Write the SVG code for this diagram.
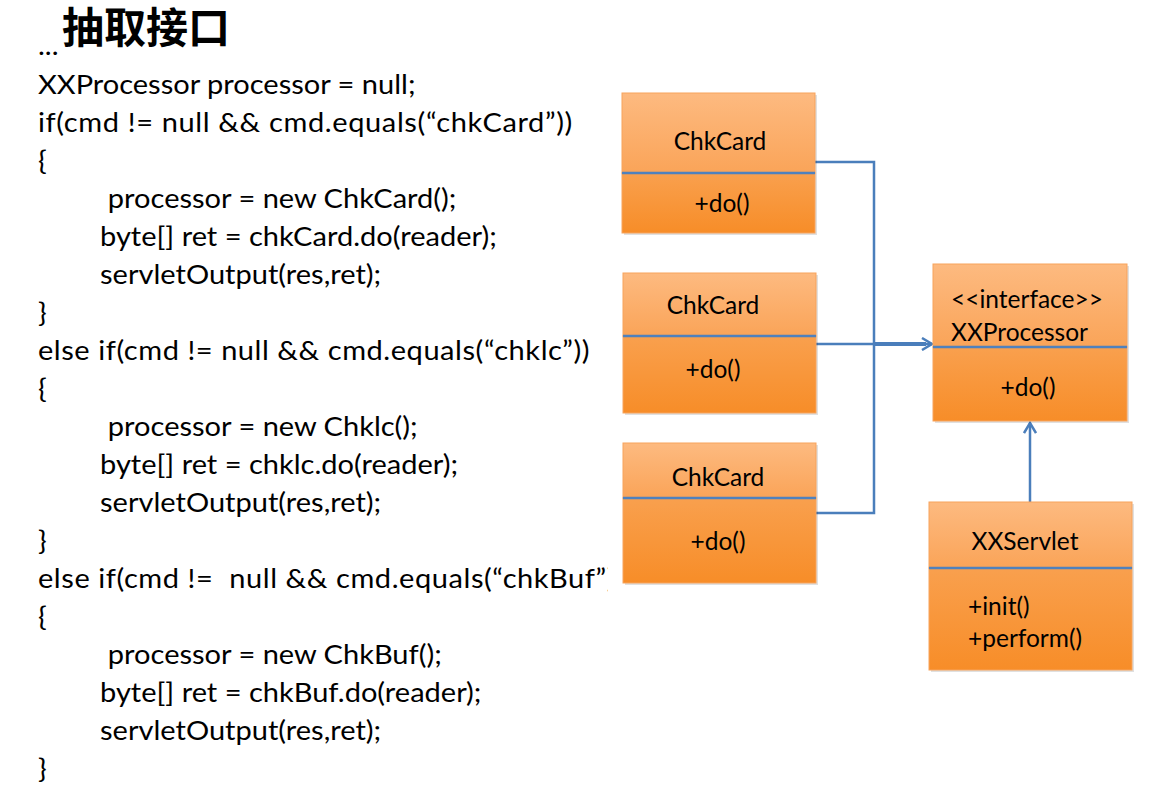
<svg xmlns="http://www.w3.org/2000/svg" width="1165" height="785" viewBox="0 0 1165 785">
<style>
.code{font-family:Lato,"Liberation Sans",sans-serif;font-size:27px;fill:#000}
.title{font-family:"Noto Sans CJK SC",sans-serif;font-size:42px;font-weight:bold;fill:#000}
.lbl{font-family:Lato,"Liberation Sans",sans-serif;font-size:24.5px;fill:#000}
.mid{text-anchor:middle}
.hdr{fill:url(#gTop);stroke:#F7A35C;stroke-width:1}
.body{fill:url(#gBot);stroke:#F7A35C;stroke-width:1}
.div{stroke:#4F81BD;stroke-width:2.5}
.conn{fill:none;stroke:#4A7EBB;stroke-width:2.5}
.shadow{fill:#000;opacity:0.12}
</style>
<defs>
<linearGradient id="gTop" x1="0" y1="0" x2="0" y2="1">
<stop offset="0" stop-color="#FDBA80"/>
<stop offset="1" stop-color="#FAA458"/>
</linearGradient>
<linearGradient id="gBot" x1="0" y1="0" x2="0" y2="1">
<stop offset="0" stop-color="#F9A04E"/>
<stop offset="1" stop-color="#F78D28"/>
</linearGradient>
<marker id="open" viewBox="0 0 14 14" refX="12" refY="7" markerWidth="14" markerHeight="14" markerUnits="userSpaceOnUse" orient="auto">
<path d="M2,1 L12,7 L2,13" fill="none" stroke="#4A7EBB" stroke-width="2.5"/>
</marker>
<clipPath id="clipLine"><rect x="0" y="560" width="568" height="50"/></clipPath>
</defs>

<text class="title" x="62" y="43">抽取接口</text>

<g id="code" transform="translate(38,0) scale(1.075,1) translate(-38,0)">
<text class="code" x="38" y="55">...</text>
<text class="code" x="38" y="94">XXProcessor processor = null;</text>
<text class="code" x="38" y="132" textLength="497" lengthAdjust="spacing">if(cmd != null &amp;&amp; cmd.equals(“chkCard”))</text>
<text class="code" x="38" y="170">{</text>
<text class="code" x="103" y="208">processor = new ChkCard();</text>
<text class="code" x="95.7" y="246">byte[] ret = chkCard.do(reader);</text>
<text class="code" x="95.7" y="284">servletOutput(res,ret);</text>
<text class="code" x="38" y="322">}</text>
<text class="code" x="38" y="360" textLength="513" lengthAdjust="spacing">else if(cmd != null &amp;&amp; cmd.equals(“chklc”))</text>
<text class="code" x="38" y="398">{</text>
<text class="code" x="103" y="436">processor = new Chklc();</text>
<text class="code" x="95.7" y="474">byte[] ret = chklc.do(reader);</text>
<text class="code" x="95.7" y="512">servletOutput(res,ret);</text>
<text class="code" x="38" y="550">}</text>
<text class="code" x="38" y="588" clip-path="url(#clipLine)" xml:space="preserve" textLength="544" lengthAdjust="spacing">else if(cmd !=  null &amp;&amp; cmd.equals(“chkBuf”))</text>
<text class="code" x="38" y="626">{</text>
<text class="code" x="103" y="664">processor = new ChkBuf();</text>
<text class="code" x="95.7" y="702">byte[] ret = chkBuf.do(reader);</text>
<text class="code" x="95.7" y="740">servletOutput(res,ret);</text>
<text class="code" x="38" y="778">}</text>
</g>

<g id="connectors">
<polyline class="conn" points="815,162 874,162 874,513 816,513"/>
<line class="conn" x1="816" y1="344" x2="874" y2="344"/>
<line x1="874" y1="344" x2="926" y2="344" stroke="#4A7EBB" stroke-width="4"/>
<line class="conn" x1="920" y1="344" x2="932" y2="344" marker-end="url(#open)"/>
<line class="conn" x1="1030" y1="502" x2="1030" y2="423" marker-end="url(#open)"/>
</g>

<g id="chkcard1">
<rect class="shadow" x="624" y="95" width="193" height="140"/>
<rect class="hdr" x="622" y="93" width="193" height="80"/>
<rect class="body" x="622" y="173" width="193" height="60"/>
<line class="div" x1="622" y1="173" x2="815" y2="173"/>
<text class="lbl mid" x="720" y="150">ChkCard</text>
<text class="lbl mid" x="722" y="212">+do()</text>
</g>

<g id="chkcard2">
<rect class="shadow" x="625" y="275" width="193" height="140"/>
<rect class="hdr" x="623" y="273" width="193" height="63"/>
<rect class="body" x="623" y="336" width="193" height="77"/>
<line class="div" x1="623" y1="336" x2="816" y2="336"/>
<text class="lbl mid" x="713" y="314">ChkCard</text>
<text class="lbl mid" x="713" y="378">+do()</text>
</g>

<g id="chkcard3">
<rect class="shadow" x="625" y="445" width="193" height="140"/>
<rect class="hdr" x="623" y="443" width="193" height="55"/>
<rect class="body" x="623" y="498" width="193" height="85"/>
<line class="div" x1="623" y1="498" x2="816" y2="498"/>
<text class="lbl mid" x="718" y="486">ChkCard</text>
<text class="lbl mid" x="718" y="550">+do()</text>
</g>

<g id="xxprocessor">
<rect class="shadow" x="935" y="266" width="194" height="157"/>
<rect class="hdr" x="933" y="264" width="194" height="83"/>
<rect class="body" x="933" y="347" width="194" height="74"/>
<line class="div" x1="933" y1="347" x2="1127" y2="347"/>
<text class="lbl" x="951" y="308">&lt;&lt;interface&gt;&gt;</text>
<text class="lbl" x="951" y="341">XXProcessor</text>
<text class="lbl mid" x="1028" y="396">+do()</text>
</g>

<g id="xxservlet">
<rect class="shadow" x="931" y="504" width="203" height="168"/>
<rect class="hdr" x="929" y="502" width="203" height="66"/>
<rect class="body" x="929" y="568" width="203" height="102"/>
<line class="div" x1="929" y1="568" x2="1132" y2="568"/>
<text class="lbl mid" x="1025" y="550">XXServlet</text>
<text class="lbl" x="968" y="615">+init()</text>
<text class="lbl" x="968" y="647">+perform()</text>
</g>
</svg>
